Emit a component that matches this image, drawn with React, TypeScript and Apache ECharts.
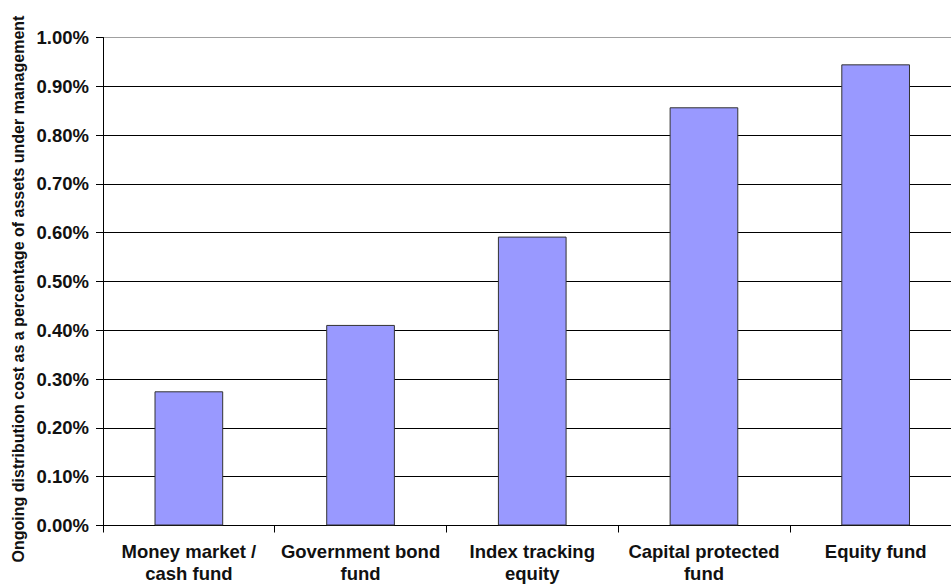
import React, { useEffect, useRef } from "react";
import * as echarts from "echarts";

const categories = [
  "Money market /\ncash fund",
  "Government bond\nfund",
  "Index tracking\nequity",
  "Capital protected\nfund",
  "Equity fund",
];
const costValues = [0.275, 0.411, 0.592, 0.857, 0.945];
const yTicks = [0, 0.1, 0.2, 0.3, 0.4, 0.5, 0.6, 0.7, 0.8, 0.9, 1.0];
const yAxisTitle = "Ongoing distribution cost as a percentage of assets under management";

export default function App() {
  const ref = useRef<HTMLDivElement>(null);
  useEffect(() => {
    if (!ref.current) return;
    const chart = echarts.init(ref.current, undefined, { renderer: "svg" });
    const font = "'Liberation Sans', Arial, sans-serif";
    const gridColors = yTicks.map((t, i) => (i === yTicks.length - 1 ? "#a0a0a0" : "#000000"));
    chart.setOption({
      animation: false,
      backgroundColor: "#ffffff",
      grid: {
        left: 103,
        top: 37.5,
        width: 858.5,
        height: 488,
        containLabel: false,
        outerBoundsMode: "none",
      },
      graphic: [
        {
          type: "text",
          x: 18.5,
          y: 289,
          rotation: Math.PI / 2,
          style: {
            text: yAxisTitle,
            align: "center",
            verticalAlign: "middle",
            fill: "#111",
            font: "bold 16px 'Liberation Sans', Arial, sans-serif",
          },
        },
      ],
      xAxis: {
        type: "category",
        data: categories,
        boundaryGap: true,
        axisLine: { show: true, lineStyle: { color: "#000", width: 1 } },
        axisTick: { show: true, length: 7, lineStyle: { color: "#000" } },
        axisLabel: {
          color: "#111",
          fontFamily: font,
          fontWeight: "bold",
          fontSize: 18.5,
          lineHeight: 22,
          margin: 15,
          interval: 0,
        },
        splitLine: { show: false },
      },
      yAxis: {
        type: "value",
        min: 0,
        max: 1,
        interval: 0.1,
        axisLine: { show: true, lineStyle: { color: "#000", width: 1 } },
        axisTick: { show: true, length: 7, inside: false, lineStyle: { color: "#000" } },
        axisLabel: {
          color: "#111",
          fontFamily: font,
          fontWeight: "bold",
          fontSize: 18.5,
          margin: 14,
          formatter: (v: number) => v.toFixed(2) + "%",
        },
        splitLine: { show: true, lineStyle: { color: gridColors, width: 1 } },
      },
      series: [
        {
          type: "bar",
          data: costValues,
          barWidth: "40%",
          itemStyle: { color: "#9999ff", borderColor: "#333333", borderWidth: 1 },
        },
      ],
    });
    return () => chart.dispose();
  }, []);
  return (
    <div
      style={{ position: "fixed", left: 0, top: 0, width: 951, height: 584, overflow: "hidden", background: "#fff" }}
    >
      <div ref={ref} style={{ width: 962, height: 584 }} />
    </div>
  );
}
